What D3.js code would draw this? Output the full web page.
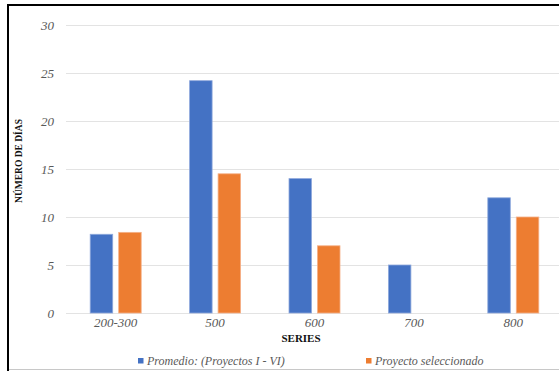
<!DOCTYPE html>
<html>
<head>
<meta charset="utf-8">
<script src="https://cdn.jsdelivr.net/npm/d3@7"></script>
<style>
  html, body { margin: 0; padding: 0; background: #fff; }
  svg { display: block; }
  svg text { font-family: "Liberation Serif", "Times New Roman", "DejaVu Serif", serif; }
</style>
</head>
<body>
<script>
const categories = ["200-300", "500", "600", "700", "800"];
const seriesNames = ["Promedio: (Proyectos I - VI)", "Proyecto seleccionado"];
const promedio = [8.2, 24.2, 14, 5, 12];
const seleccionado = [8.4, 14.5, 7, null, 10];
const yTicks = [0, 5, 10, 15, 20, 25, 30];
const colors = ["#4472C4", "#ED7D31"];

const W = 559, H = 371;
const svg = d3.select("body").append("svg").attr("width", W).attr("height", H);

// frame
svg.append("line").attr("x1", 8).attr("x2", 8).attr("y1", 4).attr("y2", H)
  .attr("stroke", "#000").attr("stroke-width", 2);
svg.append("line").attr("x1", 7).attr("x2", W).attr("y1", 5).attr("y2", 5)
  .attr("stroke", "#000").attr("stroke-width", 2);
svg.append("line").attr("x1", 9).attr("x2", W).attr("y1", 369.5).attr("y2", 369.5)
  .attr("stroke", "#c8c8c8").attr("stroke-width", 1);

const x = d3.scaleBand().domain(categories).range([66, 563]).paddingInner(0).paddingOuter(0);
const groupW = 51;
const x1 = d3.scaleBand().domain([0, 1]).range([0, groupW]).paddingInner(0.21).paddingOuter(0);
const y = d3.scaleLinear().domain([0, 30]).range([313, 25]);

// grid
const grid = svg.append("g");
grid.selectAll("line").data(yTicks).join("line")
  .attr("x1", 66).attr("x2", W)
  .attr("y1", d => y(d) + 0.5).attr("y2", d => y(d) + 0.5)
  .attr("stroke", "#e3e3e3").attr("stroke-width", 1.2);

// y axis labels
const yAxis = d3.axisLeft(y).tickValues(yTicks).tickSize(0).tickPadding(0);
const yg = svg.append("g").attr("transform", "translate(54,0)").call(yAxis);
yg.select(".domain").remove();
yg.attr("font-family", null).attr("font-size", null);
yg.selectAll("text")
  .style("font-style", "italic").style("font-size", "13px").attr("fill", "#595959")
  .attr("dy", "0.32em");

// x axis labels
const xAxis = d3.axisBottom(x).tickSize(0).tickPadding(0);
const xg = svg.append("g").attr("transform", "translate(0,318)").call(xAxis);
xg.select(".domain").remove();
xg.attr("font-family", null).attr("font-size", null);
xg.selectAll("text")
  .style("font-style", "italic").style("font-size", "13px").attr("fill", "#595959")
  .attr("dy", "0.71em");

// bars
const series = [promedio, seleccionado];
series.forEach((vals, si) => {
  svg.append("g").selectAll("rect")
    .data(categories.map((c, i) => ({c, v: vals[i]})).filter(d => d.v != null))
    .join("rect")
    .attr("x", d => x(d.c) + (x.bandwidth() - groupW) / 2 + x1(si))
    .attr("width", x1.bandwidth())
    .attr("y", d => y(d.v))
    .attr("height", d => y(0) - y(d.v))
    .attr("fill", colors[si])
    .attr("stroke", si === 0 ? "#8fa9dc" : "#f5b088")
    .attr("stroke-width", 0.8);
});

// axis titles
svg.append("text")
  .attr("transform", "translate(22,161) rotate(-90)")
  .attr("text-anchor", "middle")
  .style("font-weight", "bold").style("font-size", "9.5px").attr("fill", "#111")
  .text("NÚMERO DE DÍAS");

svg.append("text")
  .attr("x", 301).attr("y", 342)
  .attr("text-anchor", "middle")
  .style("font-weight", "bold").style("font-size", "11px").attr("fill", "#111")
  .text("SERIES");

// legend
const legendX = [138, 366];
const lg = svg.append("g");
seriesNames.forEach((name, i) => {
  lg.append("rect").attr("x", legendX[i]).attr("y", 358).attr("width", 5.5).attr("height", 5.5)
    .attr("fill", colors[i]);
  lg.append("text").attr("x", legendX[i] + 9).attr("y", 365)
    .style("font-style", "italic").style("font-size", "12px").attr("fill", "#595959")
    .text(name);
});
</script>
</body>
</html>
